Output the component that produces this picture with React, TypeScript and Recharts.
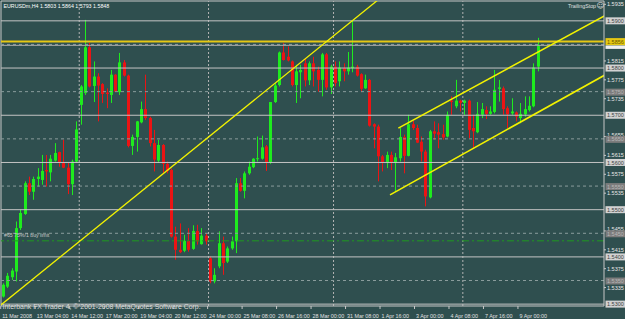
import React from 'react';
import { ComposedChart, Bar, XAxis, YAxis, ReferenceLine } from 'recharts';

// ---- OHLC data (EURUSDm, H4) ----
const opens = [
  1.5316, 1.5337, 1.5357, 1.5369, 1.5461, 1.5491, 1.5556, 1.5538, 1.5565, 1.5563,
  1.5584, 1.5579, 1.5604, 1.5622, 1.5600, 1.5589, 1.5554, 1.5602, 1.5722, 1.5747,
  1.5844, 1.5762, 1.5782, 1.5766, 1.5748, 1.5743, 1.5786, 1.5749, 1.5812, 1.5784,
  1.5635, 1.5654, 1.5685, 1.5713, 1.5694, 1.5641, 1.5604, 1.5637, 1.5597, 1.5584,
  1.5443, 1.5415, 1.5413, 1.5434, 1.5417, 1.5455, 1.5427, 1.5445, 1.5397, 1.5348,
  1.5380, 1.5429, 1.5390, 1.5418, 1.5433, 1.5556, 1.5540, 1.5577, 1.5590, 1.5607,
  1.5608, 1.5634, 1.5599, 1.5728, 1.5764, 1.5833, 1.5824, 1.5814, 1.5764, 1.5791,
  1.5810, 1.5774, 1.5810, 1.5796, 1.5775, 1.5829, 1.5759, 1.5803, 1.5772, 1.5800,
  1.5793, 1.5800, 1.5803, 1.5787, 1.5757, 1.5775, 1.5681, 1.5676, 1.5613, 1.5599,
  1.5616, 1.5600, 1.5609, 1.5654, 1.5614, 1.5681, 1.5673, 1.5644, 1.5623, 1.5526,
  1.5666, 1.5664, 1.5660, 1.5655, 1.5731, 1.5719, 1.5731, 1.5726, 1.5731, 1.5673,
  1.5664, 1.5701, 1.5711, 1.5703, 1.5707, 1.5756, 1.5757, 1.5715, 1.5704, 1.5706,
  1.5694, 1.5702, 1.5711, 1.5719, 1.5803,
];
const highs = [
  1.5344, 1.5366, 1.5376, 1.5475, 1.5500, 1.5560, 1.5570, 1.5570, 1.5588, 1.5616,
  1.5616, 1.5616, 1.5641, 1.5623, 1.5648, 1.5599, 1.5606, 1.5687, 1.5764, 1.5902,
  1.5853, 1.5814, 1.5789, 1.5768, 1.5757, 1.5796, 1.5787, 1.5832, 1.5817, 1.5786,
  1.5659, 1.5688, 1.5729, 1.5786, 1.5697, 1.5669, 1.5648, 1.5639, 1.5602, 1.5587,
  1.5464, 1.5471, 1.5447, 1.5461, 1.5467, 1.5468, 1.5461, 1.5450, 1.5401, 1.5376,
  1.5454, 1.5443, 1.5422, 1.5443, 1.5567, 1.5567, 1.5581, 1.5602, 1.5609, 1.5655,
  1.5657, 1.5637, 1.5728, 1.5768, 1.5835, 1.5853, 1.5846, 1.5816, 1.5807, 1.5807,
  1.5821, 1.5814, 1.5824, 1.5803, 1.5832, 1.5832, 1.5807, 1.5814, 1.5814, 1.5810,
  1.5834, 1.5900, 1.5807, 1.5789, 1.5786, 1.5777, 1.5683, 1.5680, 1.5616, 1.5623,
  1.5623, 1.5620, 1.5673, 1.5659, 1.5701, 1.5688, 1.5680, 1.5655, 1.5627, 1.5669,
  1.5687, 1.5683, 1.5680, 1.5708, 1.5740, 1.5775, 1.5733, 1.5733, 1.5733, 1.5701,
  1.5728, 1.5726, 1.5719, 1.5719, 1.5796, 1.5775, 1.5761, 1.5719, 1.5736, 1.5708,
  1.5726, 1.5740, 1.5740, 1.5810, 1.5864,
];
const lows = [
  1.5314, 1.5334, 1.5351, 1.5348, 1.5457, 1.5489, 1.5531, 1.5521, 1.5549, 1.5553,
  1.5549, 1.5560, 1.5602, 1.5591, 1.5588, 1.5533, 1.5531, 1.5599, 1.5680, 1.5743,
  1.5759, 1.5728, 1.5687, 1.5726, 1.5715, 1.5726, 1.5749, 1.5743, 1.5782, 1.5632,
  1.5616, 1.5623, 1.5683, 1.5690, 1.5634, 1.5581, 1.5601, 1.5577, 1.5577, 1.5441,
  1.5394, 1.5408, 1.5410, 1.5411, 1.5415, 1.5426, 1.5426, 1.5426, 1.5344, 1.5344,
  1.5376, 1.5362, 1.5387, 1.5415, 1.5408, 1.5538, 1.5524, 1.5574, 1.5588, 1.5602,
  1.5606, 1.5582, 1.5597, 1.5726, 1.5761, 1.5816, 1.5814, 1.5761, 1.5726, 1.5736,
  1.5761, 1.5764, 1.5761, 1.5750, 1.5740, 1.5754, 1.5745, 1.5761, 1.5761, 1.5772,
  1.5786, 1.5791, 1.5782, 1.5749, 1.5756, 1.5676, 1.5630, 1.5560, 1.5581, 1.5588,
  1.5584, 1.5538, 1.5602, 1.5577, 1.5613, 1.5669, 1.5641, 1.5602, 1.5507, 1.5524,
  1.5648, 1.5630, 1.5648, 1.5653, 1.5701, 1.5715, 1.5708, 1.5701, 1.5651, 1.5630,
  1.5662, 1.5694, 1.5692, 1.5701, 1.5704, 1.5729, 1.5701, 1.5673, 1.5701, 1.5687,
  1.5683, 1.5697, 1.5708, 1.5717, 1.5793,
];
const closes = [
  1.5341, 1.5360, 1.5371, 1.5461, 1.5493, 1.5556, 1.5538, 1.5565, 1.5570, 1.5582,
  1.5581, 1.5608, 1.5620, 1.5600, 1.5589, 1.5554, 1.5602, 1.5670, 1.5761, 1.5844,
  1.5761, 1.5782, 1.5763, 1.5745, 1.5745, 1.5786, 1.5750, 1.5812, 1.5784, 1.5635,
  1.5654, 1.5687, 1.5713, 1.5694, 1.5641, 1.5606, 1.5637, 1.5597, 1.5582, 1.5443,
  1.5415, 1.5410, 1.5434, 1.5415, 1.5455, 1.5433, 1.5445, 1.5433, 1.5348, 1.5362,
  1.5429, 1.5387, 1.5418, 1.5433, 1.5556, 1.5540, 1.5577, 1.5591, 1.5608, 1.5609,
  1.5632, 1.5599, 1.5728, 1.5763, 1.5833, 1.5817, 1.5816, 1.5764, 1.5793, 1.5796,
  1.5774, 1.5810, 1.5793, 1.5775, 1.5829, 1.5759, 1.5803, 1.5768, 1.5801, 1.5793,
  1.5801, 1.5803, 1.5784, 1.5756, 1.5775, 1.5678, 1.5676, 1.5613, 1.5599, 1.5616,
  1.5599, 1.5611, 1.5654, 1.5614, 1.5681, 1.5673, 1.5642, 1.5623, 1.5528, 1.5666,
  1.5661, 1.5659, 1.5653, 1.5701, 1.5728, 1.5731, 1.5726, 1.5731, 1.5669, 1.5666,
  1.5703, 1.5713, 1.5703, 1.5708, 1.5754, 1.5759, 1.5713, 1.5702, 1.5708, 1.5697,
  1.5703, 1.5713, 1.5720, 1.5801, 1.5848,
];

// ---- time axis ----
const timeTickBars = [0, 8, 16, 24, 32, 40, 48, 56, 64, 72, 80, 88, 96, 104, 112, 120];
const timeLabels = [
  '11 Mar 2008', '13 Mar 04:00', '14 Mar 12:00', '17 Mar 20:00', '19 Mar 04:00',
  '20 Mar 12:00', '24 Mar 00:00', '25 Mar 08:00', '26 Mar 16:00', '28 Mar 00:00',
  '31 Mar 08:00', '1 Apr 16:00', '3 Apr 00:00', '4 Apr 08:00', '7 Apr 16:00', '9 Apr 00:00',
];
const weekStartBars = [18, 48, 77, 107];

// ---- price axis & levels ----
const scaleTicks = [1.5935, 1.5815, 1.5775, 1.5735, 1.5655, 1.5615, 1.5575, 1.5535, 1.5455, 1.5415, 1.5375, 1.5335];
const solidLevels = [1.59, 1.58, 1.57, 1.56, 1.55, 1.54, 1.53];
const dashedLevels = [1.585, 1.575, 1.565, 1.555, 1.545, 1.535];
const dashedLabelLevels = [1.575, 1.565, 1.555, 1.545, 1.535];
const resistance = 1.5856;
const bidPrice = 1.5848;
const buyLimit = 1.5434;

// trend lines: two anchor points (bar index, price)
const trendLines = [
  { a: [2.46, 1.53195], b: [63.94, 1.57735], from: -5, to: 110 },
  { a: [91.79, 1.56727], b: [139.35, 1.59091], from: 91.79, to: 145 },
  { a: [89.86, 1.55314], b: [139.35, 1.57835], from: 89.86, to: 145 },
];

const BG = '#2F4F4F';
const BULL = '#1EEB1E';
const BEAR = '#EB1414';
const FONT = 'Liberation Sans, Arial, sans-serif';
const X_DOMAIN: [number, number] = [-0.4, 139.5];
const Y_DOMAIN: [number, number] = [1.5296, 1.5942];

const data = opens.map((o, i) => ({
  i,
  o,
  h: highs[i],
  l: lows[i],
  c: closes[i],
  range: [lows[i], highs[i]],
}));

const Candle = (props: any) => {
  const { x, y, width, height, payload } = props;
  if (!payload || x == null || y == null) return null;
  const top = Math.min(y, y + height);
  const bot = Math.max(y, y + height);
  const { o, h, l, c } = payload;
  const span = h - l || 1e-9;
  const py = (v: number) => top + ((h - v) / span) * (bot - top);
  const cx = Math.round(x + width / 2) + 0.5;
  const up = c >= o;
  const color = up ? BULL : BEAR;
  const bTop = py(Math.max(o, c));
  const bBot = py(Math.min(o, c));
  return (
    <g>
      <line x1={cx} x2={cx} y1={top} y2={bot} stroke={color} strokeWidth={1} />
      <rect x={cx - 1.5} y={bTop} width={3} height={Math.max(1, bBot - bTop)} fill={color} />
    </g>
  );
};

const PriceTick = (props: any) => {
  const { x, y, payload } = props;
  const v = payload.value as number;
  const ax = x - 3;
  const label = v.toFixed(4);
  if (scaleTicks.includes(v)) {
    // a labelled level box just below pushes the scale text up a little
    const crowded = dashedLabelLevels.some((d) => v - d > 0 && v - d < 0.0007);
    const dy = crowded ? 0.3 : 2;
    return (
      <g>
        <line x1={ax} x2={ax + 2} y1={y} y2={y} stroke="#C8C8C8" />
        <text x={ax + 3} y={y + dy} fontSize={5.5} fontFamily={FONT} fill="#E8E8E8">{label}</text>
      </g>
    );
  }
  if (v === bidPrice) {
    return <rect x={ax + 1.5} y={y} width={20} height={3.5} fill="#F0F0F0" />;
  }
  let fill = '#D2D2D2';
  let tc = '#404040';
  if (dashedLabelLevels.includes(v)) { fill = '#7C7C7C'; tc = '#B8B8B8'; }
  if (v === resistance) { fill = '#E6C814'; tc = '#6A5A00'; }
  const dyBox = dashedLabelLevels.includes(v) ? 0.5 : 0;
  return (
    <g>
      <rect x={ax + 1.5} y={y - 3.5 + dyBox} width={20} height={7} fill={fill} />
      <text x={ax + 3} y={y + 2.1 + dyBox} fontSize={5.5} fontFamily={FONT} fill={tc}>{label}</text>
    </g>
  );
};

const TimeTick = (props: any) => {
  const { x, y, payload } = props;
  const idx = timeTickBars.indexOf(payload.value);
  const label = idx >= 0 ? timeLabels[idx] : '';
  return (
    <g>
      <line x1={x - 2} x2={x - 2} y1={y} y2={y + 3} stroke="#C8C8C8" />
      <text x={x - 0.5} y={y + 11.5} fontSize={5.4} fontFamily={FONT} fill="#E0E0E0">{label}</text>
    </g>
  );
};

const extend = (t: { a: number[]; b: number[]; from: number; to: number }) => {
  const slope = (t.b[1] - t.a[1]) / (t.b[0] - t.a[0]);
  return [
    { x: t.from, y: t.a[1] + slope * (t.from - t.a[0]) },
    { x: t.to, y: t.a[1] + slope * (t.to - t.a[0]) },
  ];
};

const yAxisTicks = [...scaleTicks, ...dashedLabelLevels, ...solidLevels, bidPrice, resistance];

export default function App() {
  return (
    <div style={{ position: 'absolute', left: 0, top: 0, width: 625, height: 319, background: BG, overflow: 'hidden' }}>
      <ComposedChart
        width={625}
        height={319}
        data={data}
        margin={{ top: 1, right: 0, left: 1, bottom: 0 }}
      >
        <XAxis
          dataKey="i"
          type="number"
          domain={X_DOMAIN}
          allowDataOverflow
          ticks={timeTickBars}
          interval={0}
          tick={<TimeTick />}
          tickLine={false}
          tickSize={0}
          tickMargin={0}
          height={13}
          axisLine={{ stroke: '#C8C8C8' }}
        />
        <YAxis
          orientation="right"
          type="number"
          domain={Y_DOMAIN}
          allowDataOverflow
          ticks={yAxisTicks}
          interval={0}
          tick={<PriceTick />}
          tickLine={false}
          tickSize={2}
          tickMargin={1}
          width={21}
          axisLine={{ stroke: '#C8C8C8' }}
        />
        {/* plot border (left / top) */}
        <ReferenceLine x={X_DOMAIN[0]} stroke="#C8C8C8" strokeWidth={1} />
        <ReferenceLine y={Y_DOMAIN[1]} stroke="#C8C8C8" strokeWidth={1} />
        {weekStartBars.map((b) => (
          <ReferenceLine key={'w' + b} x={b - 0.25} stroke="#B4B4B4" strokeDasharray="2 2" strokeWidth={1} />
        ))}
        {dashedLevels.map((v) => (
          <ReferenceLine key={'d' + v} y={v} stroke="#8A9C9C" strokeDasharray="3 3" strokeWidth={1} />
        ))}
        {solidLevels.map((v) => (
          <ReferenceLine key={'s' + v} y={v} stroke="#C4C4C4" strokeWidth={1} />
        ))}
        <ReferenceLine y={bidPrice} stroke="#A8A8A8" strokeWidth={1} />
        <ReferenceLine y={buyLimit} stroke="#1F9A1F" strokeDasharray="7 3 2 3" strokeWidth={1} />
        <ReferenceLine y={resistance} stroke="#E6C814" strokeWidth={2} />
        <Bar dataKey="range" barSize={3} shape={<Candle />} isAnimationActive={false} />
        {trendLines.map((t, k) => (
          <ReferenceLine
            key={'t' + k}
            segment={extend(t)}
            stroke="#F2F200"
            strokeWidth={k === 0 ? 1.3 : 1.6}
            ifOverflow="hidden"
          />
        ))}
      </ComposedChart>
      <svg width={625} height={319} style={{ position: 'absolute', left: 0, top: 0, pointerEvents: 'none' }}>
        <text x={3.5} y={7.6} fontSize={5.3} fontFamily={FONT} fill="#FFFFFF">EURUSDm,H4  1.5803 1.5864 1.5793 1.5848</text>
        <text x={568} y={7.8} fontSize={5.3} fontFamily={FONT} fill="#E0E0E0">TrailingStop</text>
        <text x={596.5} y={8.3} fontSize={7.5} fontFamily="DejaVu Sans, sans-serif" fill="#E0E0E0">☺</text>
        <text x={4} y={236.5} fontSize={5.2} fontFamily={FONT} fill="#C8C8C8">#65 75%/1 buy limit</text>
        <text x={2.5} y={309} fontSize={6.9} fontFamily={FONT} fill="#DCDCDC">Interbank FX Trader 4, © 2001-2008 MetaQuotes Software Corp.</text>
      </svg>
    </div>
  );
}
